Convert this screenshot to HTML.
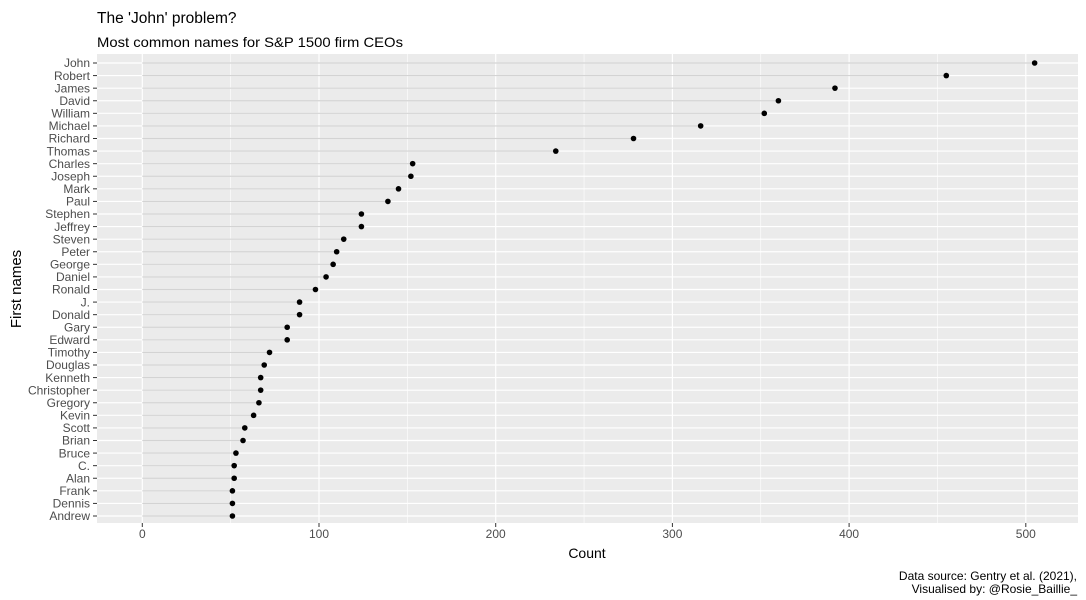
<!DOCTYPE html>
<html><head><meta charset="utf-8"><style>
body{margin:0;background:#fff;}
svg{display:block;font-family:"Liberation Sans",Arial,sans-serif;}
</style></head><body>
<svg id="chart" width="1086" height="600">
<rect width="1086" height="600" fill="#fff"/>
<text x="97" y="23" font-size="15.5" fill="#000">The 'John' problem?</text>
<text x="97" y="47" font-size="14" textLength="306" lengthAdjust="spacingAndGlyphs" fill="#000">Most common names for S&amp;P 1500 firm CEOs</text>
<rect x="97" y="54" width="981" height="469" fill="#ebebeb"/>
<g id="grid"></g><g id="marks"></g><g id="axes"></g>
<text x="587" y="558" font-size="14" text-anchor="middle" fill="#000">Count</text>
<text transform="translate(21,289) rotate(-90)" font-size="15" text-anchor="middle" fill="#000">First names</text>
<text x="1077" y="580" font-size="12" text-anchor="end" fill="#000">Data source: Gentry et al. (2021),</text>
<text x="1077" y="593" font-size="12" text-anchor="end" fill="#000">Visualised by: @Rosie_Baillie_</text>
</svg>
<script>
const names=["John","Robert","James","David","William","Michael","Richard","Thomas","Charles","Joseph","Mark","Paul","Stephen","Jeffrey","Steven","Peter","George","Daniel","Ronald","J.","Donald","Gary","Edward","Timothy","Douglas","Kenneth","Christopher","Gregory","Kevin","Scott","Brian","Bruce","C.","Alan","Frank","Dennis","Andrew"];
const counts=[505,455,392,360,352,316,278,234,153,152,145,139,124,124,114,110,108,104,98,89,89,82,82,72,69,67,67,66,63,58,57,53,52,52,51,51,51];
const xTicks=[0,100,200,300,400,500];
const xMinor=[50,150,250,350,450];
const NS="http://www.w3.org/2000/svg";
const x=v=>142.3+v*1.767;
const y=i=>63+i*(453/36);
function mk(tag,attrs,parent){const e=document.createElementNS(NS,tag);for(const k in attrs)e.setAttribute(k,attrs[k]);parent.appendChild(e);return e;}
const grid=document.getElementById('grid'),marks=document.getElementById('marks'),axes=document.getElementById('axes');
xMinor.forEach(v=>{const l=mk('line',{x1:x(v),x2:x(v),y1:54,y2:523,stroke:'#fff','stroke-width':0.6},grid);

});
xTicks.forEach(v=>{const l=mk('line',{x1:x(v),x2:x(v),y1:54,y2:523,stroke:'#fff','stroke-width':1.2},grid);


const t=mk('line',{x1:x(v),x2:x(v),y1:523,y2:527,stroke:'#333','stroke-width':1},axes);


const tx=mk('text',{x:x(v),y:538,'font-size':12,'text-anchor':'middle',fill:'#4d4d4d'},axes);tx.textContent=v;

});
names.forEach((n,i)=>{
const g=mk('line',{x1:97,x2:1078,y1:y(i),y2:y(i),stroke:'#fff','stroke-width':1.2},grid);


const s=mk('line',{x1:x(0),x2:x(counts[i]),y1:y(i),y2:y(i),stroke:'#d3d3d3','stroke-width':1.2},marks);


const c=mk('circle',{cx:x(counts[i]),cy:y(i),r:2.8,fill:'#000'},marks);


const t=mk('line',{x1:93,x2:97,y1:y(i),y2:y(i),stroke:'#333','stroke-width':1},axes);


const tx=mk('text',{x:90,y:y(i)+4.2,'font-size':12,'text-anchor':'end',fill:'#4d4d4d'},axes);tx.textContent=n;


});
</script>
</body></html>
